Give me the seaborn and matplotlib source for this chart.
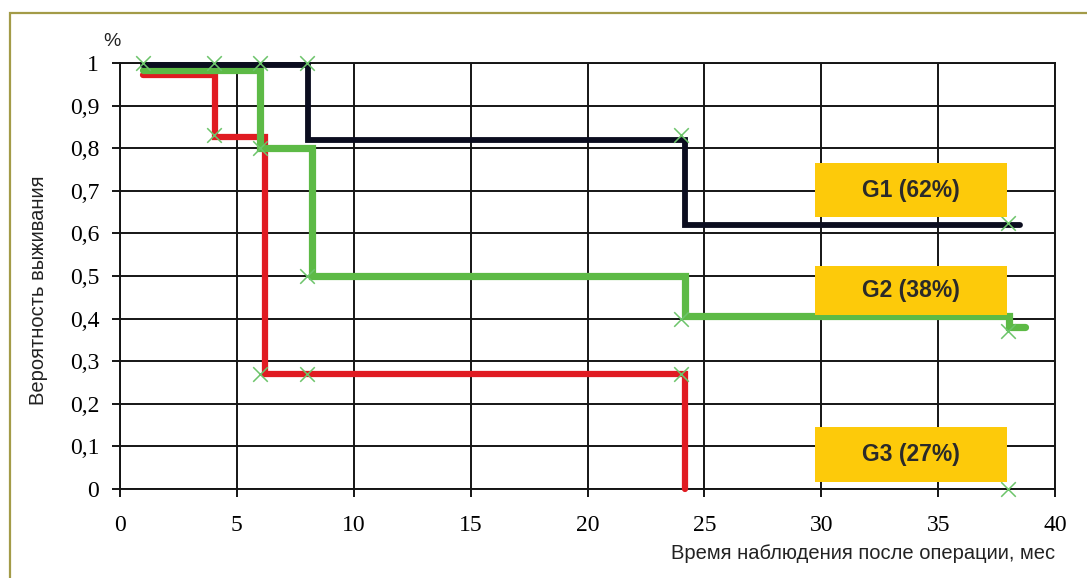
import matplotlib
matplotlib.use("Agg")
import matplotlib.pyplot as plt
from matplotlib.patches import Rectangle
import numpy as np
import pandas as pd
import seaborn as sns

# Kaplan-Meier style survival curves (steps-post: value holds until next time point)
g1_time = [1.0, 8.05, 24.15, 38.5]
g1_surv = [0.995, 0.82, 0.62, 0.62]

g2_time = [1.0, 6.0, 8.2, 24.15, 38.05, 38.7]
g2_surv = [0.983, 0.80, 0.50, 0.405, 0.38, 0.38]

g3_time = [1.0, 4.05, 6.2, 24.15, 24.15]
g3_surv = [0.973, 0.827, 0.27, 0.27, 0.0]

# censoring marks
cens_time = [1, 4, 6, 8, 4, 6, 6, 8, 8, 24, 24, 24, 38, 38, 38]
cens_surv = [1.0, 1.0, 1.0, 1.0, 0.83, 0.80, 0.27, 0.27, 0.50, 0.83, 0.40, 0.27, 0.625, 0.37, 0.0]

group_labels = ["G1 (62%)", "G2 (38%)", "G3 (27%)"]
label_box_y = [(0.638, 0.765), (0.408, 0.523), (0.016, 0.1455)]
label_box_x = (29.73, 37.95)

x_ticks = [0, 5, 10, 15, 20, 25, 30, 35, 40]
y_ticks = [0.0, 0.1, 0.2, 0.3, 0.4, 0.5, 0.6, 0.7, 0.8, 0.9, 1.0]
y_tick_labels = ["0", "0,1", "0,2", "0,3", "0,4", "0,5", "0,6", "0,7", "0,8", "0,9", "1"]

sns.set_theme(style="white")
plt.rcParams["font.family"] = ["Liberation Sans", "DejaVu Sans"]

W, H = 1087, 578
fig = plt.figure(figsize=(W / 100, H / 100), dpi=100)
fig.patch.set_facecolor("white")

# outer frame
fig.patches.append(Rectangle((10 / W, -0.05), 1.2, 1 - 13 / H + 0.05,
                             transform=fig.transFigure, fill=False,
                             edgecolor="#a39b48", lw=1.6, zorder=0))

left, right = 120 / W, 1055 / W
bottom, top = 1 - 489 / H, 1 - 63 / H
ax = fig.add_axes([left, bottom, right - left, top - bottom])
ax.set_facecolor("white")

grid_col = "#151515"
ax.set_xlim(0, 40)
ax.set_ylim(0, 1)
ax.set_xticks(x_ticks)
ax.set_yticks(y_ticks)
ax.set_yticklabels(y_tick_labels)
ax.grid(True, color=grid_col, lw=1.4)
ax.set_axisbelow(True)
for sp in ax.spines.values():
    sp.set_visible(True)
    sp.set_color(grid_col)
    sp.set_linewidth(1.4)
ax.tick_params(axis="both", which="both", direction="out", length=6, width=1.4,
               color=grid_col, labelcolor="#000000", left=True, bottom=True)
ax.tick_params(axis="y", pad=9)
ax.tick_params(axis="x", pad=13)
for lab in ax.get_xticklabels() + ax.get_yticklabels():
    lab.set_family(["Liberation Serif", "DejaVu Serif"])
    lab.set_fontsize(17)

curves = [
    (g3_time, g3_surv, "#e01b22", 4.5),
    (g2_time, g2_surv, "#5dba46", 5.2),
    (g1_time, g1_surv, "#0b0d1f", 4.2),
]
for t, s, col, lw in curves:
    sns.lineplot(x=t, y=s, ax=ax, color=col, lw=lw, drawstyle="steps-post",
                 estimator=None, sort=False, clip_on=False,
                 solid_capstyle="round", solid_joinstyle="miter", zorder=3)

sns.scatterplot(x=cens_time, y=cens_surv, ax=ax, marker="x", s=110,
                color="#6cc46a", linewidth=1.1, clip_on=False, zorder=4)

for (y0, y1), txt in zip(label_box_y, group_labels):
    ax.add_patch(Rectangle((label_box_x[0], y0), label_box_x[1] - label_box_x[0], y1 - y0,
                           facecolor="#fdca0a", edgecolor="none", zorder=5))
    ax.text((label_box_x[0] + label_box_x[1]) / 2, (y0 + y1) / 2, txt,
            ha="center", va="center", fontsize=16.5, fontweight="bold",
            color="#2a2a2a", zorder=6)

ax.set_xlabel("Время наблюдения после операции, мес", fontsize=14.5, color="#222222",
              loc="right")
ax.xaxis.set_label_coords(1.0, -0.128)
ax.xaxis.label.set_va("top")
ax.xaxis.label.set_ha("right")
ax.set_ylabel("Вероятность выживания", fontsize=14.5, color="#222222")
ax.yaxis.set_label_coords(-0.077, 0.467)

fig.text(112 / W, 1 - 42 / H, "%", ha="center", va="center", fontsize=14, color="#222222")

fig.savefig("out.png", dpi=100, facecolor="white")
